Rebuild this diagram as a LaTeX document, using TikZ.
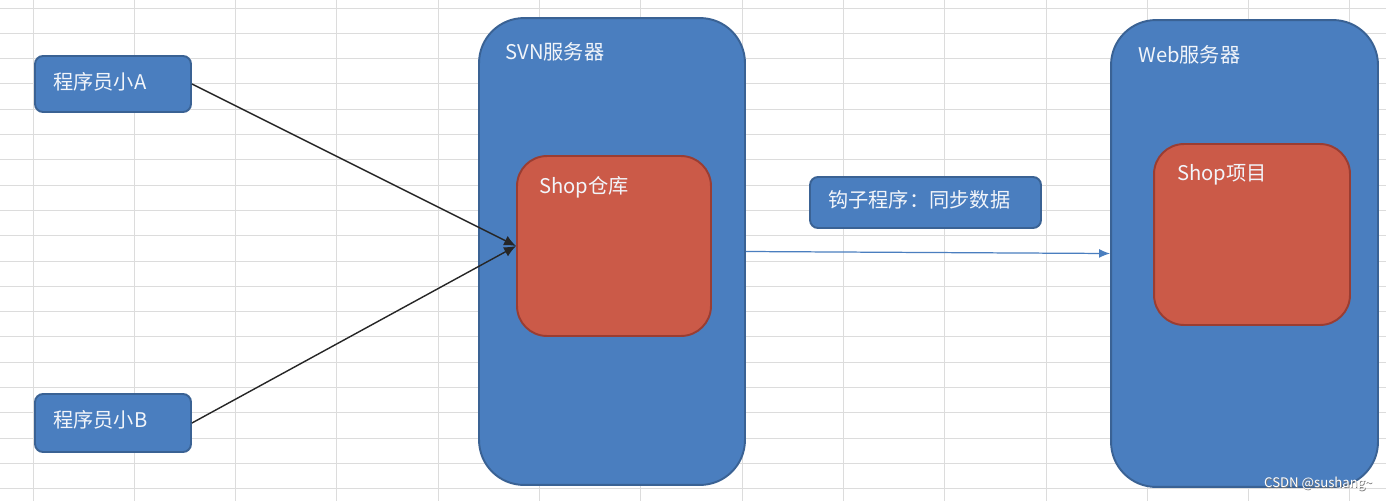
\documentclass[tikz,border=0pt]{standalone}
\usepackage{fontspec}
\setmainfont{Noto Sans CJK SC}
\usetikzlibrary{arrows.meta}

\definecolor{boxblue}{HTML}{4A7EBF}
\definecolor{blueedge}{HTML}{3A6294}
\definecolor{boxred}{HTML}{CB5A48}
\definecolor{rededge}{HTML}{9A3D32}
\definecolor{cellgrid}{HTML}{DCDCDC}
\definecolor{labeltext}{HTML}{F2F5FA}

\tikzset{
  bluebox/.style={draw=blueedge, fill=boxblue, line width=1.1pt},
  redbox/.style={draw=rededge, fill=boxred, line width=1.1pt},
  boxtext/.style={anchor=west, inner sep=0pt, text=labeltext, font=\fontsize{11.5}{13}\selectfont},
  push/.style={draw=black!85, line width=0.8pt, -{Latex[length=2.4mm,width=2.1mm]}},
  sync/.style={draw=boxblue, line width=0.7pt, -{Latex[length=2.2mm,width=1.8mm]}}
}

\begin{document}
\begin{tikzpicture}[x=0.02cm,y=-0.02cm]
  \useasboundingbox (0,0) rectangle (1386,501);
  \fill[white] (0,0) rectangle (1386,501);

  % spreadsheet cells behind the sketch
  \foreach \k in {0,...,13}
    \draw[cellgrid, line width=0.567pt] ({int(33+101.3*\k)+0.5},0) -- ({int(33+101.3*\k)+0.5},501);
  \foreach \k in {0,...,19}
    \draw[cellgrid, line width=0.567pt] (0,{int(8+25.3*\k)+0.5}) -- (1386,{int(8+25.3*\k)+0.5});

  \node[bluebox, rounded corners=0.16cm, minimum width=3.12cm, minimum height=1.12cm] (devA) at (113,84) {};
  \node[bluebox, rounded corners=0.16cm, minimum width=3.12cm, minimum height=1.16cm] (devB) at (113,423) {};
  \node[bluebox, rounded corners=0.9cm, minimum width=5.32cm, minimum height=9.34cm] (svn) at (612,251.5) {};
  \node[redbox, rounded corners=0.6cm, minimum width=3.88cm, minimum height=3.6cm] (repo) at (614,246) {};
  \node[bluebox, rounded corners=0.16cm, minimum width=4.62cm, minimum height=1.02cm] (hook) at (925.5,202.5) {};
  \node[bluebox, rounded corners=0.9cm, minimum width=5.34cm, minimum height=9.34cm] (web) at (1244.5,253.5) {};
  \node[redbox, rounded corners=0.6cm, minimum width=3.92cm, minimum height=3.62cm] (proj) at (1252,234.5) {};

  \node[boxtext] (devAtext) at (53,82) {程序员小A};
  \node[boxtext] (devBtext) at (53,420) {程序员小B};
  \node[boxtext] (svntext) at (505,52) {SVN服务器};
  \node[boxtext] (repotext) at (539,187) {Shop仓库};
  \node[boxtext] (hooktext) at (828,200) {钩子程序：同步数据};
  \node[boxtext] (webtext) at (1138,55) {Web服务器};
  \node[boxtext] (projtext) at (1177,175) {Shop项目};

  % lines (commits and the hook)
  \draw[push] (devA.east) -- (repo.west);
  \draw[push] (devB.east) -- (repo.west);
  \draw[sync] (svn.east) -- (web.west);

  \node[anchor=east, inner sep=0pt, text=black!55, font=\fontsize{7.5}{9}\selectfont] (markshadow) at (1373.6,484.6) {CSDN @sushang\textasciitilde};
  \node[anchor=east, inner sep=0pt, text=white, font=\fontsize{7.5}{9}\selectfont] (mark) at (1373,484) {CSDN @sushang\textasciitilde};
\end{tikzpicture}
\end{document}
